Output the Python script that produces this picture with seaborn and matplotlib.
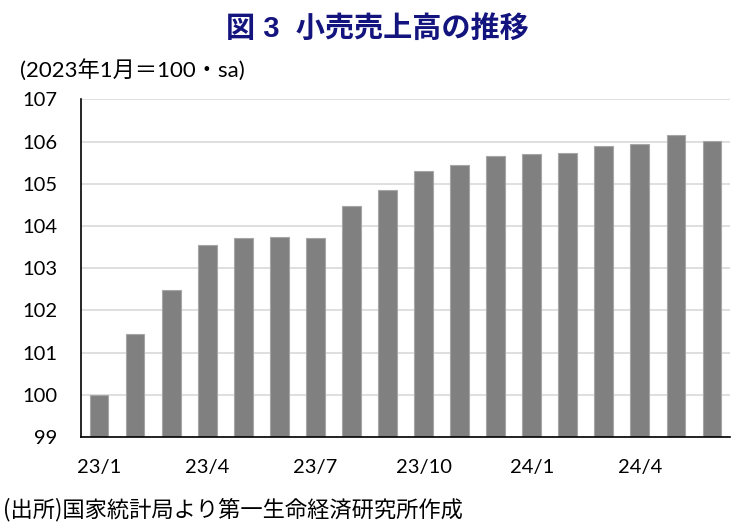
import matplotlib
matplotlib.use("Agg")
import matplotlib.pyplot as plt
import seaborn as sns
import pandas as pd

months = ["23/1", "23/2", "23/3", "23/4", "23/5", "23/6", "23/7", "23/8", "23/9",
          "23/10", "23/11", "23/12", "24/1", "24/2", "24/3", "24/4", "24/5", "24/6"]
values = [100.0, 101.44, 102.48, 103.56, 103.71, 103.74, 103.71, 104.47, 104.85,
          105.29, 105.45, 105.65, 105.71, 105.73, 105.90, 105.93, 106.15, 106.02]
shown_ticks = ["23/1", "23/4", "23/7", "23/10", "24/1", "24/4"]
y_ticks = [99, 100, 101, 102, 103, 104, 105, 106, 107]

title = "図 3  小売売上高の推移"
subtitle = "(2023年1月＝100・sa)"
footer = "(出所)国家統計局より第一生命経済研究所作成"

sns.set_style("white")
plt.rcParams["font.family"] = ["Lato", "Noto Sans CJK JP", "DejaVu Sans"]

df = pd.DataFrame({"month": months, "value": values})

fig = plt.figure(figsize=(7.4, 5.23), dpi=100)
ax = fig.add_axes([81/740, 1-437/523, (730-81)/740, (437-99.3)/523])

sns.barplot(data=df, x="month", y="value", color="#808080", saturation=1,
            width=0.52, edgecolor="#a6a6a6", linewidth=0.8, ax=ax, zorder=3)

ax.set_ylim(99, 107)
ax.set_xlim(-0.5, len(months) - 0.5)
ax.set_yticks(y_ticks)
ax.set_yticklabels([str(t) for t in y_ticks])
ax.yaxis.grid(True, color="#d9d9d9", linewidth=1.2, zorder=0)
ax.set_axisbelow(True)

tick_pos = [months.index(m) for m in shown_ticks]
ax.set_xticks(tick_pos)
ax.set_xticklabels(shown_ticks)
ax.tick_params(axis="both", length=0, labelsize=14.5, colors="black")
ax.tick_params(axis="y", pad=17)
ax.tick_params(axis="x", pad=16)
ax.set_xlabel("")
ax.set_ylabel("")

for side in ["top", "right"]:
    ax.spines[side].set_visible(False)
for side in ["left", "bottom"]:
    ax.spines[side].set_color("black")
    ax.spines[side].set_linewidth(1.2)
    ax.spines[side].set_zorder(5)

fig.text(377/740, 1-29/523, title, ha="center", va="center", fontsize=21,
         fontweight="bold", color="#14147f",
         family=["Liberation Sans", "Noto Sans CJK JP"])
fig.text(20/740, 1-70/523, subtitle, ha="left", va="center", fontsize=16,
         color="black")
fig.text(3/740, 1-510/523, footer, ha="left", va="center", fontsize=16,
         color="black", family=["Noto Sans CJK JP", "DejaVu Sans"])

fig.savefig("out.png", dpi=100)
